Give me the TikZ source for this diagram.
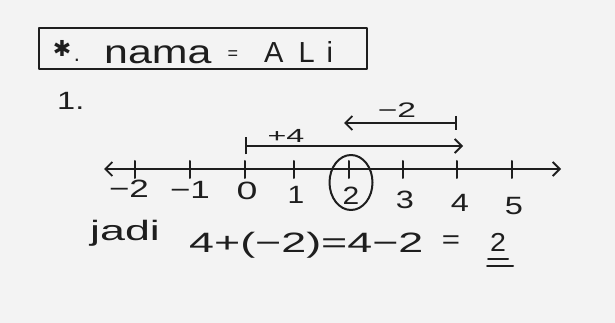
\documentclass[tikz,border=0pt]{standalone}
\usepackage{fontspec}
\usepackage{graphicx}
\setmainfont{Liberation Sans}
\newfontfamily\symfont{DejaVu Sans}
\usetikzlibrary{arrows.meta}
\definecolor{paper}{RGB}{243,243,243}
\definecolor{ink}{RGB}{30,30,30}
\tikzset{
  pen/.style={line width=2pt, draw=ink, line cap=round, line join=round},
  chev/.tip={Straight Barb[length=7pt,width=14pt,line width=1.8pt]},
  num/.style={inner sep=0pt, text=ink, font=\fontsize{25}{25}\selectfont},
  hand/.style={inner sep=0pt, text=ink},
  tick/.style={pen}
}
\newcommand{\hx}[2]{\scalebox{#1}[1]{#2}}
\begin{document}
\begin{tikzpicture}[x=1pt,y=-1pt]
\fill[paper] (0,0) rectangle (615,323);
\useasboundingbox (0,0) rectangle (615,323);

% title box
\draw[pen] (39,28) rectangle (367,69);
\node[hand, font=\symfont\fontsize{22}{22}\selectfont] (star) at (62,48) {✱};
\node[hand, font=\fontsize{22}{22}\selectfont, anchor=base] (dot) at (77,62) {.};
\node[hand, font=\fontsize{33}{33}\selectfont, anchor=base west] (nama) at (104,64) {\hx{1.3}{nama}};
\node[hand, font=\fontsize{18}{18}\selectfont, anchor=base] (eq) at (233,60) {=};
\node[hand, font=\fontsize{29}{29}\selectfont, anchor=base west] (ali) at (264,63) {A\hspace{15pt}L\hspace{12pt}i};

% 1.
\node[hand, font=\fontsize{25}{25}\selectfont, anchor=base west] (one) at (57,110) {\hx{1.3}{1.}};

% number line
\coordinate (L) at (104,169);
\coordinate (R) at (561,169);
\draw[pen, chev-chev] (L) -- (R);
\foreach \n/\x in {m2/135, m1/190, z/245, a/294, b/349, c/403, d/457, e/512}{
  \coordinate (t\n) at (\x,169);
  \draw[tick] (t\n) ++(0,-8) -- ++(0,17);
}

% labels
\node[num] (lm2) at (129,189) {\hx{1.4}{−2}};
\node[num] (lm1) at (190,190) {\hx{1.4}{−1}};
\node[num] (lz) at (247,191) {\hx{1.5}{0}};
\node[num] (la) at (296,195) {\hx{1.2}{1}};
\node[num] (lb) at (351,196) {\hx{1.2}{2}};
\node[num] (lc) at (405,200) {\hx{1.3}{3}};
\node[num] (ld) at (460,203) {\hx{1.3}{4}};
\node[num] (le) at (514,206) {\hx{1.3}{5}};

% circle around 2
\draw[pen] (351,182.5) ellipse [x radius=21.5, y radius=27.5];

% +4 arrow
\coordinate (p0) at (245,146);
\coordinate (p4) at (463,146);
\draw[pen, {Bar[width=17pt,line width=2pt]}-chev] (p0) -- (p4);
\node[hand, font=\fontsize{19}{19}\selectfont] (plus4) at (286,136) {\hx{1.7}{+4}};

% -2 arrow
\coordinate (q4) at (457,123);
\coordinate (q2) at (344,123);
\draw[pen, {Bar[width=14pt,line width=2pt]}-chev] (q4) -- (q2);
\node[hand, font=\fontsize{21}{21}\selectfont] (minus2) at (397,110) {\hx{1.6}{−2}};

% bottom equation
\node[hand, font=\fontsize{28}{28}\selectfont, anchor=base west] (jadi) at (90,240) {\hx{1.6}{jadi}};
\node[hand, font=\fontsize{28}{28}\selectfont, anchor=base west] (expr) at (189,252) {\hx{1.6}{4+(−2)=4−2}};
\node[hand, font=\fontsize{26}{26}\selectfont] (eq2) at (451,242) {\hx{1.2}{=}};
\node[hand, font=\fontsize{26}{26}\selectfont, anchor=base] (res) at (498,251) {\hx{1.1}{2}};
\coordinate (u1a) at (488,259); \coordinate (u1b) at (508,259);
\coordinate (u2a) at (487,266); \coordinate (u2b) at (513,266);
\draw[pen] (u1a) -- (u1b);
\draw[pen] (u2a) -- (u2b);
\end{tikzpicture}
\end{document}
